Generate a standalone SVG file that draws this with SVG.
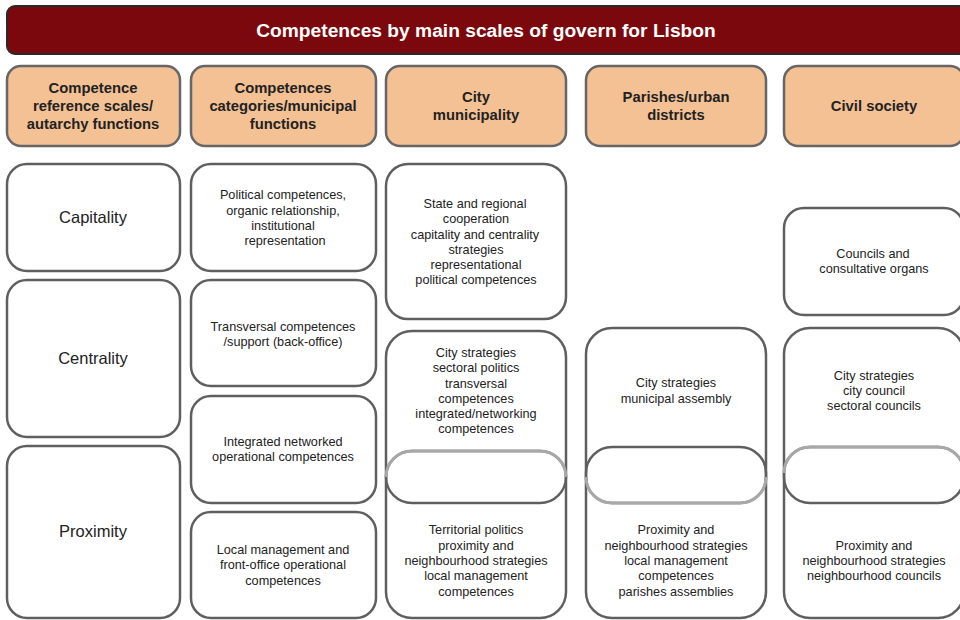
<svg xmlns="http://www.w3.org/2000/svg" width="960" height="620" viewBox="0 0 960 620">
<style>
.hd{fill:#f4c194;stroke:#666;stroke-width:2.5}
.bx{fill:#fff;stroke:#5f5f5f;stroke-width:2.5}
.bxn{fill:none;stroke:#5f5f5f;stroke-width:2.5}
.lt{fill:none;stroke:#a8a8a8;stroke-width:3}
.ht{font-family:"Liberation Sans",Arial,sans-serif;font-weight:bold;font-size:14.8px;fill:#222;text-anchor:middle}
.t{font-family:"Liberation Sans",Arial,sans-serif;font-size:12.7px;fill:#222;text-anchor:middle}
.big{font-family:"Liberation Sans",Arial,sans-serif;font-size:16.5px;fill:#222;text-anchor:middle}
</style>
<rect width="960" height="620" fill="#fff"/>
<g id="title">
<rect x="7" y="6" width="960" height="48" rx="8" fill="#7b080c" stroke="#2a2a2a" stroke-width="2"/>
<text x="486" y="37" font-family="Liberation Sans,Arial,sans-serif" font-weight="bold" font-size="19.2px" fill="#fff" text-anchor="middle">Competences by main scales of govern for Lisbon</text>
</g>
<g id="h1"><rect class="hd" x="7" y="66" width="173" height="80" rx="14"/>
<text class="ht"><tspan x="93" y="93">Competence</tspan><tspan x="93" y="111">reference scales/</tspan><tspan x="93" y="129">autarchy functions</tspan></text></g>
<g id="h2"><rect class="hd" x="191" y="66" width="185" height="80" rx="14"/>
<text class="ht"><tspan x="283" y="93">Competences</tspan><tspan x="283" y="111">categories/municipal</tspan><tspan x="283" y="129">functions</tspan></text></g>
<g id="h3"><rect class="hd" x="386" y="66" width="180" height="80" rx="14"/>
<text class="ht"><tspan x="476" y="102">City</tspan><tspan x="476" y="120">municipality</tspan></text></g>
<g id="h4"><rect class="hd" x="586" y="66" width="180" height="80" rx="14"/>
<text class="ht"><tspan x="676" y="102">Parishes/urban</tspan><tspan x="676" y="120">districts</tspan></text></g>
<g id="h5"><rect class="hd" x="784" y="66" width="180" height="80" rx="14"/>
<text class="ht"><tspan x="874" y="111">Civil society</tspan></text></g>

<g id="capitality"><rect class="bx" x="7" y="164" width="173" height="107" rx="20"/>
<text class="big" x="93" y="223">Capitality</text></g>
<g id="centrality"><rect class="bx" x="7" y="280" width="173" height="157" rx="20"/>
<text class="big" x="93" y="364">Centrality</text></g>
<g id="proximity"><rect class="bx" x="7" y="446" width="173" height="172" rx="20"/>
<text class="big" x="93" y="537">Proximity</text></g>

<g id="cat1"><rect class="bx" x="191" y="164" width="185" height="107" rx="20"/>
<text class="t"><tspan x="283" y="199">Political competences,</tspan><tspan x="283" y="215">organic relationship,</tspan><tspan x="283" y="230">institutional</tspan><tspan x="285" y="245">representation</tspan></text></g>
<g id="cat2"><rect class="bx" x="191" y="280" width="185" height="106" rx="20"/>
<text class="t"><tspan x="283" y="331">Transversal competences</tspan><tspan x="283" y="346">/support (back-office)</tspan></text></g>
<g id="cat3"><rect class="bx" x="191" y="396" width="185" height="107" rx="20"/>
<text class="t"><tspan x="283" y="446">Integrated networked</tspan><tspan x="283" y="461">operational competences</tspan></text></g>
<g id="cat4"><rect class="bx" x="191" y="512" width="185" height="106" rx="20"/>
<text class="t"><tspan x="283" y="554">Local management and</tspan><tspan x="283" y="569">front-office operational</tspan><tspan x="283" y="585">competences</tspan></text></g>

<g id="city1"><rect class="bx" x="386" y="164" width="180" height="155" rx="22"/>
<text class="t"><tspan x="475" y="208">State and regional</tspan><tspan x="476" y="223">cooperation</tspan><tspan x="475" y="239">capitality and centrality</tspan><tspan x="476" y="254">strategies</tspan><tspan x="476" y="269">representational</tspan><tspan x="476" y="284">political competences</tspan></text></g>
<g id="city2"><rect class="bx" x="386" y="331" width="180" height="172" rx="26"/>
<text class="t"><tspan x="476" y="357">City strategies</tspan><tspan x="476" y="372">sectoral politics</tspan><tspan x="476" y="388">transversal</tspan><tspan x="476" y="403">competences</tspan><tspan x="476" y="418">integrated/networking</tspan><tspan x="476" y="433">competences</tspan></text></g>
<g id="city3"><rect class="bxn" x="386" y="451" width="180" height="167" rx="26"/>
<path class="lt" d="M386,477 A26,26 0 0 1 412,451 L540,451 A26,26 0 0 1 566,477"/>
<text class="t"><tspan x="476" y="534">Territorial politics</tspan><tspan x="476" y="550">proximity and</tspan><tspan x="476" y="565">neighbourhood strategies</tspan><tspan x="476" y="580">local management</tspan><tspan x="476" y="596">competences</tspan></text></g>

<g id="par1"><rect class="bx" x="586" y="328" width="180" height="175" rx="26"/>
<text class="t"><tspan x="676" y="387">City strategies</tspan><tspan x="676" y="403">municipal assembly</tspan></text></g>
<g id="par2"><rect class="bxn" x="586" y="447" width="180" height="171" rx="26"/>
<path class="lt" d="M586,477 A26,26 0 0 0 612,503 L740,503 A26,26 0 0 0 766,477"/>
<text class="t"><tspan x="676" y="534">Proximity and</tspan><tspan x="676" y="550">neighbourhood strategies</tspan><tspan x="676" y="565">local management</tspan><tspan x="676" y="580">competences</tspan><tspan x="676" y="596">parishes assemblies</tspan></text></g>

<g id="civ1"><rect class="bx" x="784" y="208" width="180" height="107" rx="20"/>
<text class="t"><tspan x="873" y="258">Councils and</tspan><tspan x="874" y="273">consultative organs</tspan></text></g>
<g id="civ2"><rect class="bx" x="784" y="328" width="180" height="175" rx="26"/>
<text class="t"><tspan x="874" y="380">City strategies</tspan><tspan x="874" y="395">city council</tspan><tspan x="874" y="410">sectoral councils</tspan></text></g>
<g id="civ3"><rect class="bxn" x="784" y="447" width="180" height="171" rx="26"/>
<path class="lt" d="M784,473 A26,26 0 0 1 810,447 L938,447 A26,26 0 0 1 964,473"/>
<text class="t"><tspan x="874" y="550">Proximity and</tspan><tspan x="874" y="565">neighbourhood strategies</tspan><tspan x="874" y="580">neighbourhood councils</tspan></text></g>
<g id="connectors"></g>
</svg>
